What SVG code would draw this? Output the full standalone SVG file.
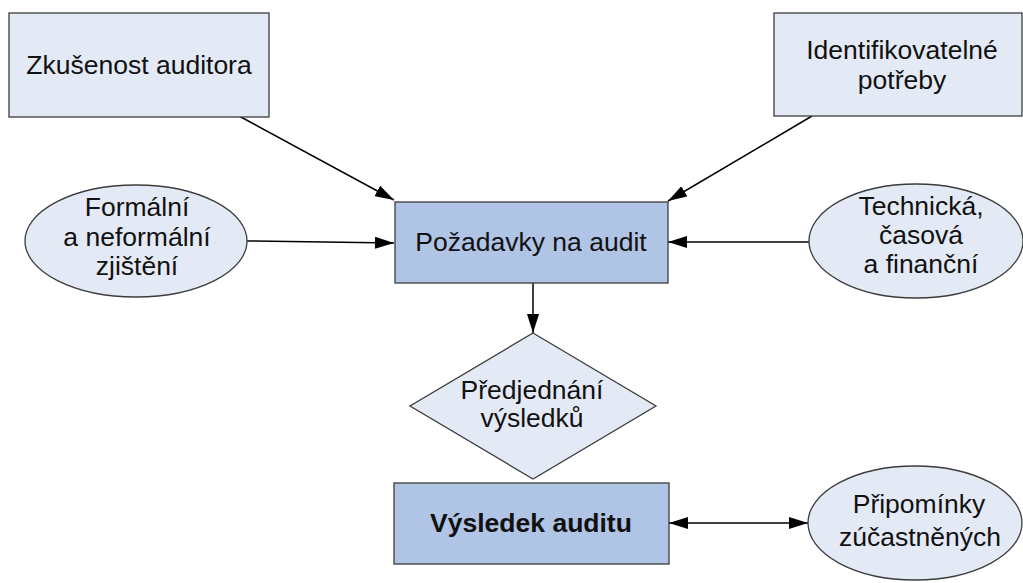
<svg xmlns="http://www.w3.org/2000/svg" width="1023" height="583" viewBox="0 0 1023 583">
  <style>
    .light { fill: #E4EAF5; stroke: #3C3C3C; stroke-width: 1.3; }
    .dark { fill: #B0C4E5; stroke: #3C3C3C; stroke-width: 1.3; }
    .lbl { font-family: "Liberation Sans", Arial, sans-serif; font-size: 26.5px; fill: #111; text-anchor: middle; }
    .bold { font-weight: bold; }
    .conn { stroke: #000; stroke-width: 1.5; fill: none; }
  </style>
  <defs>
    <marker id="arrowEnd" markerUnits="userSpaceOnUse" markerWidth="20" markerHeight="12" refX="19" refY="6" orient="auto">
      <path d="M0,0 L19,6 L0,12 Z" fill="#000"/>
    </marker>
    <marker id="arrowStart" markerUnits="userSpaceOnUse" markerWidth="20" markerHeight="12" refX="0" refY="6" orient="auto">
      <path d="M19,0 L0,6 L19,12 Z" fill="#000"/>
    </marker>
  </defs>

  <!-- connectors -->
  <g id="connectors">
    <line class="conn" x1="239" y1="116" x2="394" y2="200" marker-end="url(#arrowEnd)"/>
    <line class="conn" x1="812" y1="116" x2="668" y2="201" marker-end="url(#arrowEnd)"/>
    <line class="conn" x1="247" y1="241" x2="394" y2="243" marker-end="url(#arrowEnd)"/>
    <line class="conn" x1="809" y1="242" x2="668" y2="242" marker-end="url(#arrowEnd)"/>
    <line class="conn" x1="533" y1="283" x2="533" y2="333" marker-end="url(#arrowEnd)"/>
    <line class="conn" x1="669" y1="523" x2="808" y2="523" marker-start="url(#arrowStart)" marker-end="url(#arrowEnd)"/>
  </g>

  <g id="zkusenost">
    <rect class="light" x="9" y="13" width="260" height="104"/>
    <text class="lbl" x="139" y="74">Zkušenost auditora</text>
  </g>

  <g id="identifikovatelne">
    <rect class="light" x="774" y="13" width="248" height="103"/>
    <text class="lbl" x="902" y="59">Identifikovatelné</text>
    <text class="lbl" x="902" y="89">potřeby</text>
  </g>

  <g id="formalni">
    <ellipse class="light" cx="136" cy="241" rx="111" ry="56"/>
    <text class="lbl" x="137" y="216">Formální</text>
    <text class="lbl" x="137" y="246">a neformální</text>
    <text class="lbl" x="137" y="275">zjištění</text>
  </g>

  <g id="pozadavky">
    <rect class="dark" x="395" y="202" width="273" height="81"/>
    <text class="lbl" x="531" y="251">Požadavky na audit</text>
  </g>

  <g id="technicka">
    <ellipse class="light" cx="916" cy="241" rx="107" ry="57"/>
    <text class="lbl" x="921" y="215">Technická,</text>
    <text class="lbl" x="921" y="244">časová</text>
    <text class="lbl" x="921" y="273">a finanční</text>
  </g>

  <g id="predjednani">
    <polygon class="light" points="533,333 656,406 533,479 410,406"/>
    <text class="lbl" x="532" y="399">Předjednání</text>
    <text class="lbl" x="532" y="427">výsledků</text>
  </g>

  <g id="vysledek">
    <rect class="dark" x="394" y="483" width="275" height="81"/>
    <text class="lbl bold" x="531" y="532">Výsledek auditu</text>
  </g>

  <g id="pripominky">
    <ellipse class="light" cx="915" cy="523" rx="107" ry="57"/>
    <text class="lbl" x="919" y="513">Připomínky</text>
    <text class="lbl" x="920" y="546">zúčastněných</text>
  </g>
</svg>
